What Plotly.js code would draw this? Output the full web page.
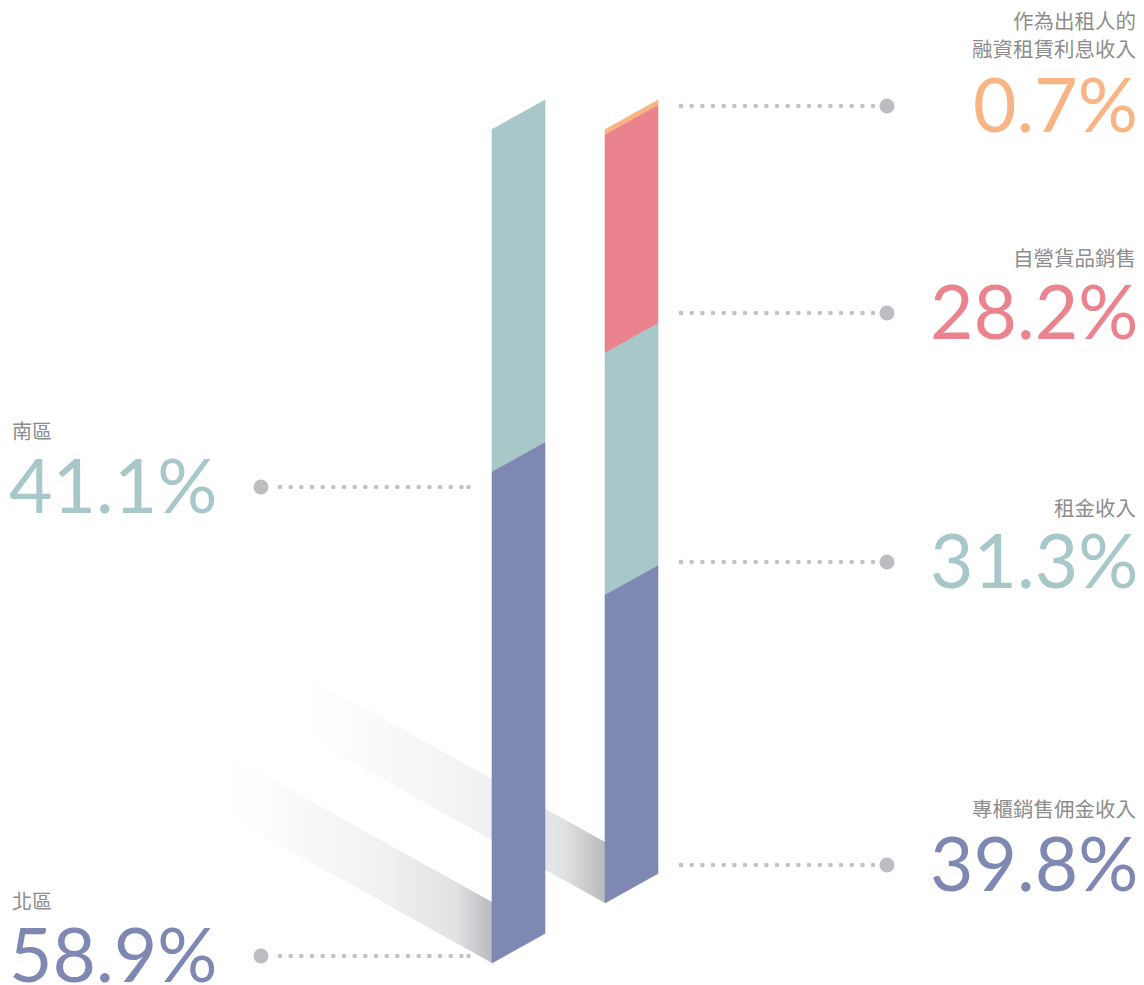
<!DOCTYPE html>
<html>
<head>
<meta charset="utf-8">
<script src="https://cdn.plot.ly/plotly-3.0.1.min.js"></script>
<style>
html,body{margin:0;padding:0;background:#fff;}
#chart{width:1144px;height:985px;}
</style>
</head>
<body>
<div id="chart"></div>
<script>
// ---- data ----
const regionLabels = ['南區', '北區'];
const regionValues = [41.1, 58.9];
const regionColors = ['#a7c7c8', '#7f87b3'];

const revenueLabels = ['作為出租人的<br>融資租賃利息收入', '自營貨品銷售', '租金收入', '專櫃銷售佣金收入'];
const revenueValues = [0.7, 28.2, 31.3, 39.8];
const revenueColors = ['#f8b482', '#ea838d', '#a7c7c8', '#7f87b3'];

// ---- layout constants ----
const W = 1144, H = 985;
const BAR_W = 53, SKEW = 29.5, SLOPE = SKEW / BAR_W;
const leftBar = {x0: 492, top: 129.5, bottom: 963};
const rightBar = {x0: 605, top: 129.5, bottom: 903};
const labelGray = '#8d8d8d';
const dotGray = '#c3c3c7';
const bigDotGray = '#bdbdc1';
const numFont = 'Lato, "Noto Sans", sans-serif';
const cjkFont = '"Noto Sans CJK TC", "Noto Sans CJK SC", sans-serif';

const traces = [];

function shadow(bar, thick, len, dark) {
  const xr = bar.x0, xl = bar.x0 - len;
  const yb = bar.bottom, yt = bar.bottom - thick;
  traces.push({
    type: 'scatter', mode: 'lines', hoverinfo: 'skip', showlegend: false,
    x: [xr, xr, xl, xl, xr],
    y: [yb, yt, yt - len * SLOPE, yb - len * SLOPE, yb],
    fill: 'toself', line: {width: 0, color: 'rgba(0,0,0,0)'},
    fillcolor: '#e6e6e8',
    fillgradient: {
      type: 'horizontal',
      start: xl, stop: xr,
      colorscale: [[0, 'rgba(255,255,255,0)'], [0.3, 'rgba(250,250,250,1)'], [0.65, '#f0f0f1'], [0.88, '#e0e1e3'], [1, dark]]
    }
  });
}

function stackedBar(bar, values, colors) {
  const total = values.reduce((a, b) => a + b, 0);
  const span = bar.bottom - bar.top;
  let cum = 0;
  values.forEach((v, i) => {
    const yA = bar.top + span * cum / total;
    cum += v;
    const yB = bar.top + span * cum / total;
    const xl = bar.x0, xr = bar.x0 + BAR_W;
    traces.push({
      type: 'scatter', mode: 'lines', hoverinfo: 'skip', showlegend: false,
      x: [xl, xr, xr, xl, xl],
      y: [yA, yA - SKEW, yB - SKEW, yB, yA],
      fill: 'toself', fillcolor: colors[i],
      line: {width: 0.6, color: colors[i]}
    });
  });
}

function leader(xStart, xEnd, y, bigAtStart) {
  const xs = [];
  const step = 10.67;
  const n = Math.round((xEnd - xStart) / step);
  for (let k = 0; k <= n; k++) xs.push(xStart + k * step);
  if (bigAtStart) xs.push(xEnd + 6.5); else xs.unshift(xStart);
  traces.push({
    type: 'scatter', mode: 'markers', hoverinfo: 'skip', showlegend: false,
    x: xs, y: xs.map(() => y),
    marker: {size: 4.6, color: dotGray, line: {width: 0}}
  });
  const bx = bigAtStart ? xStart - 19 : xEnd + 14;
  traces.push({
    type: 'scatter', mode: 'markers', hoverinfo: 'skip', showlegend: false,
    x: [bx], y: [y],
    marker: {size: 15, color: bigDotGray, line: {width: 0}}
  });
}

// shadows first (behind bars)
shadow(rightBar, 61, 330, '#b9babd');
shadow(leftBar, 61, 290, '#b9babd');
// bars
stackedBar(leftBar, regionValues, regionColors);
stackedBar(rightBar, revenueValues, revenueColors);

// leaders
const leftLeaderY = [487, 956];
const rightLeaderY = [106, 313, 562, 865];
leftLeaderY.forEach(y => leader(280, 462, y, true));
rightLeaderY.forEach(y => leader(681, 873, y, false));

// annotations
const annotations = [];
const NUM_SIZE = 75;
function fmt(v) { return v.toFixed(1) + '%'; }

// right side
const rightLabelY = [[20, 48], [257], [507], [808]];
revenueLabels.forEach((lab, i) => {
  const lines = lab.split('<br>');
  lines.forEach((ln, j) => {
    annotations.push({
      x: 1138, y: rightLabelY[i][j], xref: 'x', yref: 'y',
      xanchor: 'right', yanchor: 'middle', showarrow: false,
      text: ln, font: {family: cjkFont, size: 20.5, color: labelGray}
    });
  });
  annotations.push({
    x: 1140, y: rightLeaderY[i] - 3, xref: 'x', yref: 'y',
    xanchor: 'right', yanchor: 'middle', showarrow: false,
    text: fmt(revenueValues[i]),
    font: {family: numFont, size: NUM_SIZE, color: revenueColors[i], weight: 400}
  });
});

// left side
const leftLabelY = [430, 900];
regionLabels.forEach((lab, i) => {
  annotations.push({
    x: 10, y: leftLabelY[i], xref: 'x', yref: 'y',
    xanchor: 'left', yanchor: 'middle', showarrow: false,
    text: lab, font: {family: cjkFont, size: 20, color: labelGray}
  });
  annotations.push({
    x: 7, y: leftLeaderY[i] - 3, xref: 'x', yref: 'y',
    xanchor: 'left', yanchor: 'middle', showarrow: false,
    text: fmt(regionValues[i]),
    font: {family: numFont, size: NUM_SIZE, color: regionColors[i], weight: 400}
  });
});

const layout = {
  width: W, height: H,
  margin: {l: 0, r: 0, t: 0, b: 0},
  paper_bgcolor: '#ffffff', plot_bgcolor: '#ffffff',
  xaxis: {range: [0, W], visible: false, fixedrange: true},
  yaxis: {range: [H, 0], visible: false, fixedrange: true},
  annotations: annotations,
  showlegend: false
};

Plotly.newPlot('chart', traces, layout, {displayModeBar: false, staticPlot: true});
</script>
</body>
</html>
